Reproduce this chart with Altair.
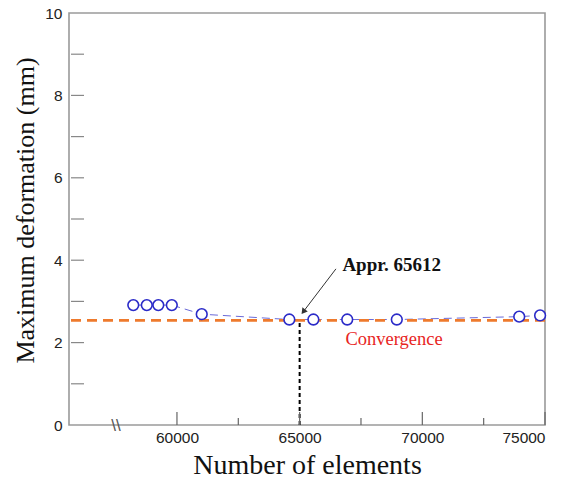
import altair as alt
import pandas as pd

# ---- data ----
elements = [58220, 58770, 59240, 59790, 61010, 64580, 65560, 66940, 68960, 73950, 74800]
deformation = [2.91, 2.91, 2.91, 2.91, 2.69, 2.56, 2.56, 2.56, 2.56, 2.63, 2.66]
convergence_value = 2.54
convergence_elements = 65000
x_major_ticks = [60000, 65000, 70000, 75000]
x_minor_ticks = [62500, 67500, 72500]
y_ticks = [0, 1, 2, 3, 4, 5, 6, 7, 8, 9, 10]
y_labels = [0, 2, 4, 6, 8, 10]
x_domain = [55600, 75000]
y_domain = [0, 10]
annot_text = ["Appr. 65612"]
annot_pos = [(68750, 3.88)]
arrow_from = (66480, 3.79)
arrow_to = (65150, 2.75)
conv_text = ["Convergence"]
conv_pos = [(68850, 2.09)]
break_pos = [(57560, 0.0)]

W, H = 476, 412
SERIF = "Liberation Serif"
SANS = "Liberation Sans"

xs = alt.Scale(domain=x_domain, nice=False, zero=False)
ys = alt.Scale(domain=y_domain, nice=False, zero=False)

pts = pd.DataFrame({"x": elements, "y": deformation})

x_enc = alt.X("x:Q", scale=xs, axis=alt.Axis(
    values=x_major_ticks, format="d", ticks=False, domain=False, grid=False,
    labelFont=SANS, labelFontSize=15.5, labelColor="#222", labelPadding=5,
    title="Number of elements", titleFont=SERIF, titleFontSize=28,
    titleFontWeight="normal", titleColor="#111", titleX=W / 2, titleY=40,
    titleBaseline="middle"))
y_enc = alt.Y("y:Q", scale=ys, axis=alt.Axis(
    values=y_labels, ticks=False, domain=False, grid=False,
    labelFont=SANS, labelFontSize=15.5, labelColor="#222", labelPadding=7,
    title="Maximum deformation (mm)", titleFont=SERIF, titleFontSize=26,
    titleFontWeight="normal", titleColor="#111", titleX=-44, titleY=197,
    titleAngle=-90, titleBaseline="middle", titleAlign="center"))

conv_line = alt.Chart(pd.DataFrame({"y": [convergence_value]})).mark_rule(
    color="#EE7A2D", strokeWidth=2.6, strokeDash=[10, 6]
).encode(y=alt.Y("y:Q", scale=ys))

vline = alt.Chart(pd.DataFrame({"x": [convergence_elements], "y": [0], "y2": [convergence_value]})).mark_rule(
    color="#000", strokeWidth=2, strokeDash=[4, 3]
).encode(x=alt.X("x:Q", scale=xs), y=alt.Y("y:Q", scale=ys), y2="y2:Q")

line = alt.Chart(pts).mark_line(color="#6A6AD8", strokeWidth=1, strokeDash=[8, 5]).encode(
    x=x_enc, y=y_enc)

points = alt.Chart(pts).mark_point(
    shape="circle", size=115, filled=False, color="#2B2BC8", strokeWidth=1.6, fill="white", fillOpacity=1
).encode(x=alt.X("x:Q", scale=xs), y=alt.Y("y:Q", scale=ys))

arrow_df = pd.DataFrame({"x": [arrow_from[0]], "y": [arrow_from[1]], "x2": [arrow_to[0]], "y2": [arrow_to[1]]})
arrow_line = alt.Chart(arrow_df).mark_rule(color="#333", strokeWidth=1).encode(
    x=alt.X("x:Q", scale=xs), y=alt.Y("y:Q", scale=ys), x2="x2:Q", y2="y2:Q")
arrow_head = alt.Chart(pd.DataFrame({"x": [arrow_to[0]], "y": [arrow_to[1]]})).mark_point(
    shape="triangle-up", size=45, filled=True, color="#333", angle=217, opacity=1
).encode(x=alt.X("x:Q", scale=xs), y=alt.Y("y:Q", scale=ys))

annot = alt.Chart(pd.DataFrame({"x": [p[0] for p in annot_pos], "y": [p[1] for p in annot_pos], "t": annot_text})).mark_text(
    font=SERIF, fontSize=19, fontWeight="bold", color="#111", align="center", baseline="middle"
).encode(x=alt.X("x:Q", scale=xs), y=alt.Y("y:Q", scale=ys), text="t:N")

conv = alt.Chart(pd.DataFrame({"x": [p[0] for p in conv_pos], "y": [p[1] for p in conv_pos], "t": conv_text})).mark_text(
    font=SERIF, fontSize=18.5, color="#E8251E", align="center", baseline="middle"
).encode(x=alt.X("x:Q", scale=xs), y=alt.Y("y:Q", scale=ys), text="t:N")

brk = alt.Chart(pd.DataFrame({"x": [p[0] for p in break_pos], "y": [p[1] for p in break_pos], "t": ["\\\\"]})).mark_text(
    font=SANS, fontSize=17, color="#555", align="center", baseline="middle", dx=-1, dy=1
).encode(x=alt.X("x:Q", scale=xs), y=alt.Y("y:Q", scale=ys), text="t:N")

xmaj = alt.Chart(pd.DataFrame({"x": x_major_ticks})).mark_rule(color="#666", strokeWidth=1.2).encode(
    x=alt.X("x:Q", scale=xs), y=alt.value(H), y2=alt.value(H - 13))
xmin = alt.Chart(pd.DataFrame({"x": x_minor_ticks})).mark_rule(color="#666", strokeWidth=1.2).encode(
    x=alt.X("x:Q", scale=xs), y=alt.value(H), y2=alt.value(H - 7))
ytk = alt.Chart(pd.DataFrame({"y": y_ticks[1:-1]})).mark_rule(color="#888", strokeWidth=1.2).encode(
    y=alt.Y("y:Q", scale=ys), x=alt.value(2), x2=alt.value(15))

chart = alt.layer(
    line, conv_line, vline, points, arrow_line, arrow_head, annot, conv, xmaj, xmin, ytk, brk
).properties(
    width=W, height=H,
    autosize=alt.AutoSizeParams(type="none"),
    padding={"left": 69, "top": 13, "right": 24, "bottom": 54},
    background="white",
).configure_view(stroke="#9A9A9A", strokeWidth=1.6)

chart.save("out.html", embed_options={"renderer": "svg", "actions": False})
